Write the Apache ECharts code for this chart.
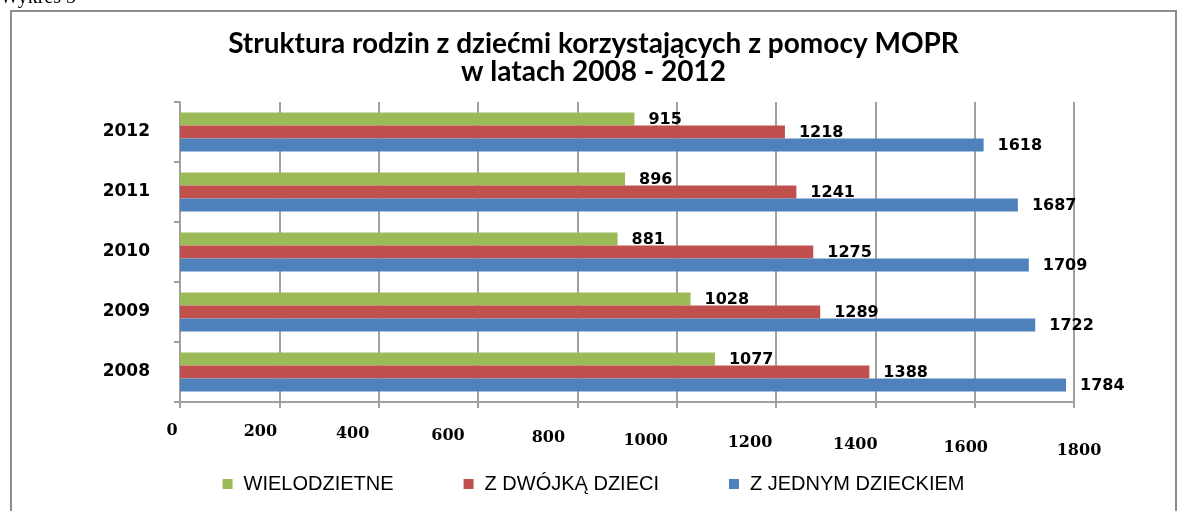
<!DOCTYPE html>
<html>
<head>
<meta charset="utf-8">
<script src="https://cdn.jsdelivr.net/npm/echarts@6/dist/echarts.min.js"></script>
<style>
  html, body { margin: 0; padding: 0; background: #fff; }
  #chart { width: 1187px; height: 511px; }
</style>
</head>
<body>
<div id="chart"></div>
<script>
// Families with children supported by MOPR, 2008-2012
var years = ['2008', '2009', '2010', '2011', '2012'];
var wielodzietne = [1077, 1028, 881, 896, 915];
var zDwojka = [1388, 1289, 1275, 1241, 1218];
var zJednym = [1784, 1722, 1709, 1687, 1618];
var xTicks = [0, 200, 400, 600, 800, 1000, 1200, 1400, 1600, 1800];

// the original is a 3D chart: bottom labels sit on a slanted front edge,
// so nudge each one (px left, px down) to follow it
var tickNudgeX = [8, 19, 26, 30, 29, 31, 26, 20, 9, -5];
var tickNudgeY = [0, 1, 3, 5, 7, 10, 12, 14, 17, 20];

var labelFont = { fontFamily: 'DejaVu Sans', fontWeight: 'bold', fontSize: 16, color: '#000' };

function barSeries(name, data, color) {
    return {
        name: name,
        type: 'bar',
        data: data,
        barGap: '0%',
        barCategoryGap: '35%',
        itemStyle: { color: color },
        label: Object.assign({ show: true, position: 'right', distance: 14, offset: [0, 1] }, labelFont)
    };
}

var rich = {};
xTicks.forEach(function(v, i) {
    var dx = tickNudgeX[i];
    rich['t' + i] = {
        fontFamily: 'DejaVu Serif', fontWeight: 'bold', fontSize: 16, color: '#000',
        padding: [tickNudgeY[i], dx > 0 ? dx * 2 : 0, 0, dx < 0 ? -dx * 2 : 0]
    };
});

var chart = echarts.init(document.getElementById('chart'), null, { renderer: 'canvas' });
chart.setOption({
    animation: false,
    title: {
        text: 'Struktura rodzin z dziećmi korzystających z pomocy MOPR\nw latach 2008 - 2012',
        left: 'center', top: 25,
        textStyle: { fontFamily: 'Lato', fontWeight: 'bold', fontSize: 28, lineHeight: 28, color: '#000' }
    },
    graphic: [
        { type: 'rect', shape: { x: 11, y: 11, width: 1165, height: 520 },
          style: { fill: 'none', stroke: '#8c8c8c', lineWidth: 2 }, silent: true },
        { type: 'text', left: 0, top: -12,
          style: { text: 'Wykres 5', font: '20px "Liberation Serif"', fill: '#000' } }
    ],
    legend: {
        bottom: 12, left: 'center',
        data: ['WIELODZIETNE', 'Z DWÓJKĄ DZIECI', 'Z JEDNYM DZIECKIEM'],
        icon: 'rect', itemWidth: 10, itemHeight: 10, itemGap: 70,
        textStyle: { fontFamily: 'Liberation Sans', fontSize: 20, color: '#000', padding: [0, 0, 0, 6] }
    },
    grid: { left: 180, right: 113, top: 102, bottom: 109, containLabel: false },
    xAxis: {
        type: 'value', min: 0, max: 1800, interval: 200,
        axisLine: { show: true, lineStyle: { color: '#a0a0a0', width: 2 } },
        axisTick: { show: true, length: 6, lineStyle: { color: '#a0a0a0', width: 2 } },
        splitLine: { show: true, lineStyle: { color: '#a0a0a0', width: 2 } },
        axisLabel: {
            margin: 21,
            formatter: function(v) { return '{t' + xTicks.indexOf(v) + '|' + v + '}'; },
            rich: rich
        }
    },
    yAxis: {
        type: 'category', data: years,
        axisLine: { show: true, lineStyle: { color: '#a0a0a0', width: 2 } },
        axisTick: { show: true, length: 6, lineStyle: { color: '#a0a0a0', width: 2 } },
        axisLabel: Object.assign({ margin: 30 }, labelFont, { fontSize: 17 })
    },
    series: [
        barSeries('WIELODZIETNE', wielodzietne, '#9BBB59'),
        barSeries('Z DWÓJKĄ DZIECI', zDwojka, '#C0504D'),
        barSeries('Z JEDNYM DZIECKIEM', zJednym, '#4F81BD')
    ]
});
</script>
</body>
</html>
